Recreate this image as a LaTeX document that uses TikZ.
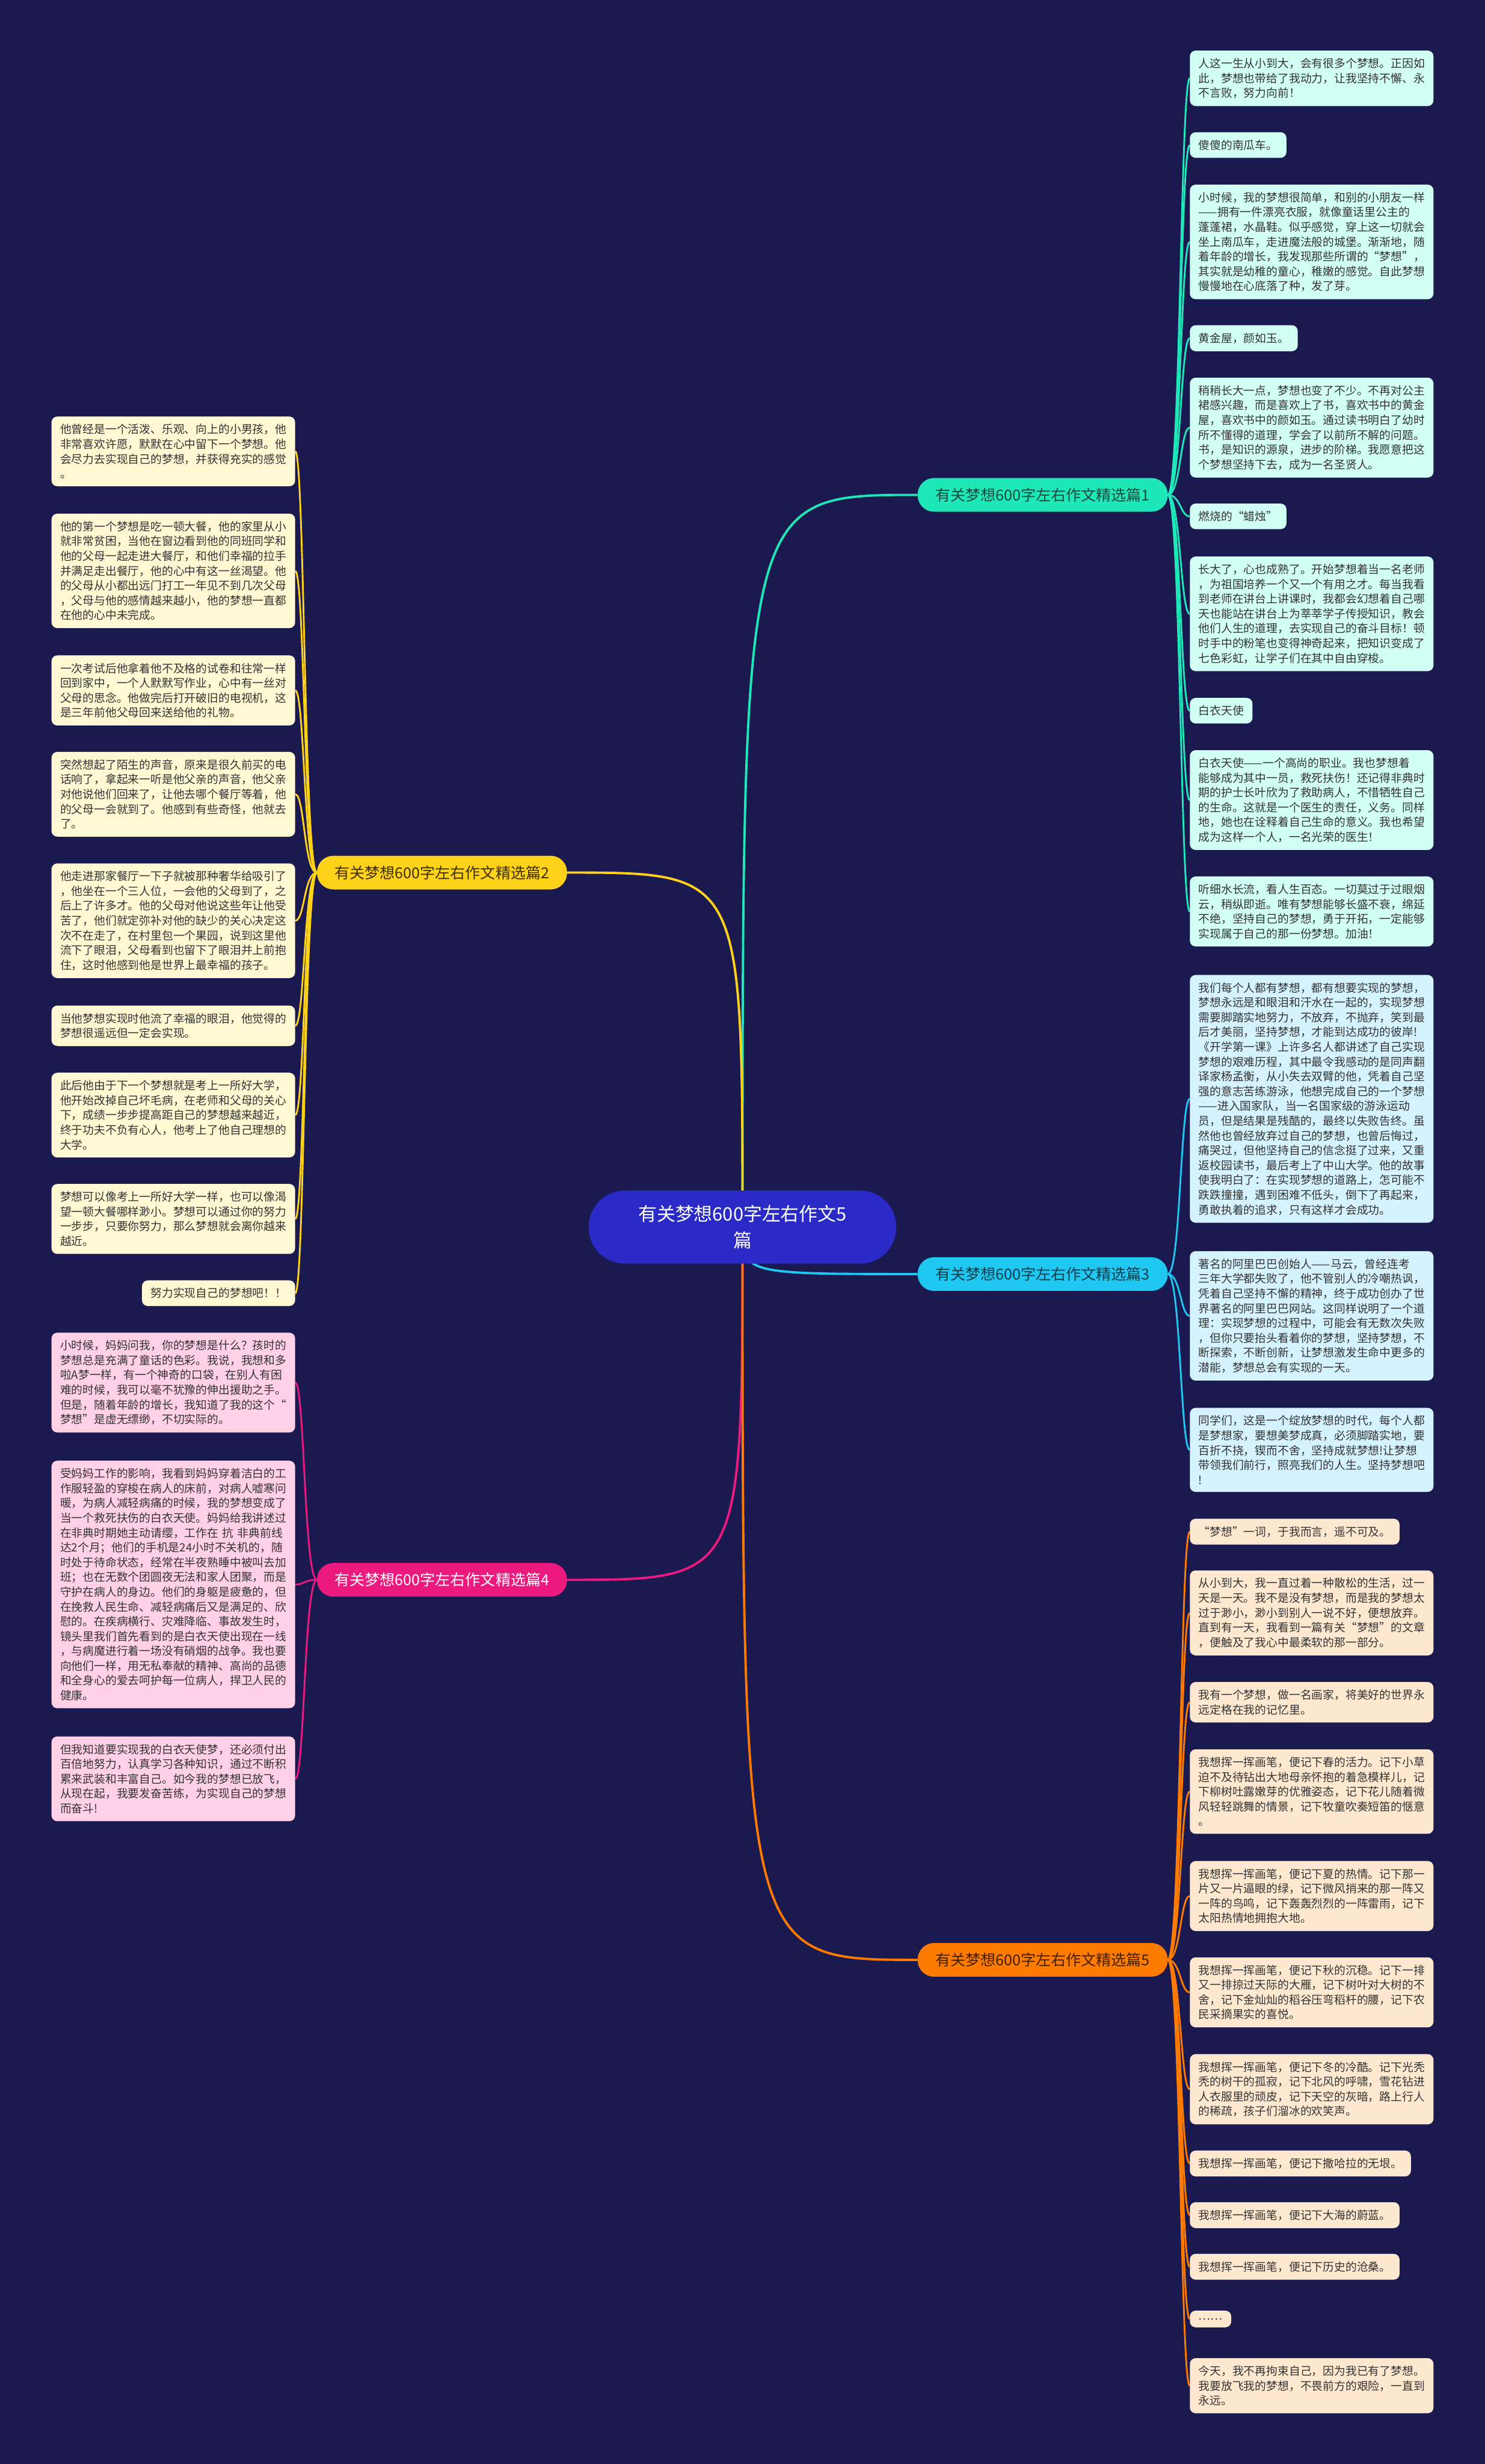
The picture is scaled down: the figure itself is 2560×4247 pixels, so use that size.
\documentclass[tikz,border=0pt]{standalone}
\usepackage{fontspec}
\newfontfamily\cjk{Noto Sans CJK SC}
\usetikzlibrary{backgrounds}
\definecolor{bg}{HTML}{1B1A50}
\definecolor{ctr}{HTML}{2A2AC6}
\definecolor{c1}{HTML}{1EE8B8}
\definecolor{f1}{HTML}{D2FFF3}
\definecolor{c2}{HTML}{FFD21A}
\definecolor{f2}{HTML}{FFF8D2}
\definecolor{c3}{HTML}{1EC8F0}
\definecolor{f3}{HTML}{D4F3FF}
\definecolor{c4}{HTML}{EC1A7E}
\definecolor{f4}{HTML}{FFD0E6}
\definecolor{c5}{HTML}{FF7B00}
\definecolor{f5}{HTML}{FFE8D0}
\definecolor{t1}{HTML}{1A4A3E}
\definecolor{t2}{HTML}{3D3000}
\definecolor{t3}{HTML}{0E3D4D}
\definecolor{t5}{HTML}{402000}
\definecolor{lt}{HTML}{333333}
\newcommand\lffont{\cjk\fontsize{19.5}{25.5}\selectfont}
\newcommand\brfont{\cjk\fontsize{26}{30}\selectfont}
\newcommand\ctfont{\cjk\fontsize{32}{45}\selectfont}
\begin{document}
\begin{tikzpicture}[x=1pt,y=-1pt,
  leaf/.style={rounded corners=10pt, inner xsep=15pt, inner ysep=13pt, align=left, font=\lffont, text=lt},
  full/.style={text width=390pt},
  g1/.style={leaf, fill=f1}, g2/.style={leaf, fill=f2}, g3/.style={leaf, fill=f3},
  g4/.style={leaf, fill=f4}, g5/.style={leaf, fill=f5},
  rl/.style={anchor=west}, ll/.style={anchor=east},
  branch/.style={rounded corners=28pt, minimum width=431pt, minimum height=58pt, inner sep=0pt, font=\brfont},
  center/.style={rounded corners=62pt, minimum width=530pt, minimum height=126pt, inner sep=0pt, align=center, font=\ctfont, fill=ctr, text=white},
  link/.style={line width=3pt},
  mainlink/.style={line width=4pt}]
\useasboundingbox (0,0) rectangle (2560,4247);

% center and branches
\node[center] (c) at (1280,2115) {有关梦想600字左右作文5\\篇};
\node[branch, fill=c1, text=t1] (b1) at (1797.5,853) {有关梦想600字左右作文精选篇1};
\node[branch, fill=c2, text=t2] (b2) at (762,1504) {有关梦想600字左右作文精选篇2};
\node[branch, fill=c3, text=t3] (b3) at (1797.5,2196) {有关梦想600字左右作文精选篇3};
\node[branch, fill=c4, text=white] (b4) at (762,2723) {有关梦想600字左右作文精选篇4};
\node[branch, fill=c5, text=t5] (b5) at (1797.5,3378) {有关梦想600字左右作文精选篇5};

% group 1
\node[g1,full,rl] (r1) at (2051,135) {人这一生从小到大，会有很多个梦想。正因如\\此，梦想也带给了我动力，让我坚持不懈、永\\不言败，努力向前！};
\node[g1,rl] (r2) at (2051,250) {傻傻的南瓜车。};
\node[g1,full,rl] (r3) at (2051,417) {小时候，我的梦想很简单，和别的小朋友一样\\——拥有一件漂亮衣服，就像童话里公主的\\蓬蓬裙，水晶鞋。似乎感觉，穿上这一切就会\\坐上南瓜车，走进魔法般的城堡。渐渐地，随\\着年龄的增长，我发现那些所谓的“梦想”，\\其实就是幼稚的童心，稚嫩的感觉。自此梦想\\慢慢地在心底落了种，发了芽。};
\node[g1,rl] (r4) at (2051,583) {黄金屋，颜如玉。};
\node[g1,full,rl] (r5) at (2051,737) {稍稍长大一点，梦想也变了不少。不再对公主\\裙感兴趣，而是喜欢上了书，喜欢书中的黄金\\屋，喜欢书中的颜如玉。通过读书明白了幼时\\所不懂得的道理，学会了以前所不解的问题。\\书，是知识的源泉，进步的阶梯。我愿意把这\\个梦想坚持下去，成为一名圣贤人。};
\node[g1,rl] (r6) at (2051,890) {燃烧的“蜡烛”};
\node[g1,full,rl] (r7) at (2051,1058) {长大了，心也成熟了。开始梦想着当一名老师\\，为祖国培养一个又一个有用之才。每当我看\\到老师在讲台上讲课时，我都会幻想着自己哪\\天也能站在讲台上为莘莘学子传授知识，教会\\他们人生的道理，去实现自己的奋斗目标！顿\\时手中的粉笔也变得神奇起来，把知识变成了\\七色彩虹，让学子们在其中自由穿梭。};
\node[g1,rl] (r8) at (2051,1225) {白衣天使};
\node[g1,full,rl] (r9) at (2051,1379) {白衣天使——一个高尚的职业。我也梦想着\\能够成为其中一员，救死扶伤！还记得非典时\\期的护士长叶欣为了救助病人，不惜牺牲自己\\的生命。这就是一个医生的责任，义务。同样\\地，她也在诠释着自己生命的意义。我也希望\\成为这样一个人，一名光荣的医生！};
\node[g1,full,rl] (r10) at (2051,1571) {听细水长流，看人生百态。一切莫过于过眼烟\\云，稍纵即逝。唯有梦想能够长盛不衰，绵延\\不绝，坚持自己的梦想，勇于开拓，一定能够\\实现属于自己的那一份梦想。加油！};

% group 3
\node[g3,full,rl] (s1) at (2051,1894) {我们每个人都有梦想，都有想要实现的梦想，\\梦想永远是和眼泪和汗水在一起的，实现梦想\\需要脚踏实地努力，不放弃，不抛弃，笑到最\\后才美丽，坚持梦想，才能到达成功的彼岸!\\《开学第一课》上许多名人都讲述了自己实现\\梦想的艰难历程，其中最令我感动的是同声翻\\译家杨孟衡，从小失去双臂的他，凭着自己坚\\强的意志苦练游泳，他想完成自己的一个梦想\\——进入国家队，当一名国家级的游泳运动\\员，但是结果是残酷的，最终以失败告终。虽\\然他也曾经放弃过自己的梦想，也曾后悔过，\\痛哭过，但他坚持自己的信念挺了过来，又重\\返校园读书，最后考上了中山大学。他的故事\\使我明白了：在实现梦想的道路上，怎可能不\\跌跌撞撞，遇到困难不低头，倒下了再起来，\\勇敢执着的追求，只有这样才会成功。};
\node[g3,full,rl] (s2) at (2051,2268) {著名的阿里巴巴创始人——马云，曾经连考\\三年大学都失败了，他不管别人的冷嘲热讽，\\凭着自己坚持不懈的精神，终于成功创办了世\\界著名的阿里巴巴网站。这同样说明了一个道\\理：实现梦想的过程中，可能会有无数次失败\\，但你只要抬头看着你的梦想，坚持梦想，不\\断探索，不断创新，让梦想激发生命中更多的\\潜能，梦想总会有实现的一天。};
\node[g3,full,rl] (s3) at (2051,2499) {同学们，这是一个绽放梦想的时代，每个人都\\是梦想家，要想美梦成真，必须脚踏实地，要\\百折不挠，锲而不舍，坚持成就梦想!让梦想\\带领我们前行，照亮我们的人生。坚持梦想吧\\!};

% group 5
\node[g5,rl] (o1) at (2051,2640) {“梦想”一词，于我而言，遥不可及。};
\node[g5,full,rl] (o2) at (2051,2780) {从小到大，我一直过着一种散松的生活，过一\\天是一天。我不是没有梦想，而是我的梦想太\\过于渺小，渺小到别人一说不好，便想放弃。\\直到有一天，我看到一篇有关“梦想”的文章\\，便触及了我心中最柔软的那一部分。};
\node[g5,full,rl] (o3) at (2051,2934) {我有一个梦想，做一名画家，将美好的世界永\\远定格在我的记忆里。};
\node[g5,full,rl] (o4) at (2051,3088) {我想挥一挥画笔，便记下春的活力。记下小草\\迫不及待钻出大地母亲怀抱的着急模样儿，记\\下柳树吐露嫩芽的优雅姿态，记下花儿随着微\\风轻轻跳舞的情景，记下牧童吹奏短笛的惬意\\。};
\node[g5,full,rl] (o5) at (2051,3268) {我想挥一挥画笔，便记下夏的热情。记下那一\\片又一片逼眼的绿，记下微风捎来的那一阵又\\一阵的鸟鸣，记下轰轰烈烈的一阵雷雨，记下\\太阳热情地拥抱大地。};
\node[g5,full,rl] (o6) at (2051,3434) {我想挥一挥画笔，便记下秋的沉稳。记下一排\\又一排掠过天际的大雁，记下树叶对大树的不\\舍，记下金灿灿的稻谷压弯稻杆的腰，记下农\\民采摘果实的喜悦。};
\node[g5,full,rl] (o7) at (2051,3601) {我想挥一挥画笔，便记下冬的冷酷。记下光秃\\秃的树干的孤寂，记下北风的呼啸，雪花钻进\\人衣服里的顽皮，记下天空的灰暗，路上行人\\的稀疏，孩子们溜冰的欢笑声。};
\node[g5,rl] (o8) at (2051,3729) {我想挥一挥画笔，便记下撒哈拉的无垠。};
\node[g5,rl] (o9) at (2051,3818) {我想挥一挥画笔，便记下大海的蔚蓝。};
\node[g5,rl] (o10) at (2051,3907) {我想挥一挥画笔，便记下历史的沧桑。};
\node[g5,rl] (o11) at (2051,3997) {……};
\node[g5,full,rl] (o12) at (2051,4112) {今天，我不再拘束自己，因为我已有了梦想。\\我要放飞我的梦想，不畏前方的艰险，一直到\\永远。};

% group 2
\node[g2,full,ll] (y1) at (509,778) {他曾经是一个活泼、乐观、向上的小男孩，他\\非常喜欢许愿，默默在心中留下一个梦想。他\\会尽力去实现自己的梦想，并获得充实的感觉\\。};
\node[g2,full,ll] (y2) at (509,984) {他的第一个梦想是吃一顿大餐，他的家里从小\\就非常贫困，当他在窗边看到他的同班同学和\\他的父母一起走进大餐厅，和他们幸福的拉手\\并满足走出餐厅，他的心中有这一丝渴望。他\\的父母从小都出远门打工一年见不到几次父母\\，父母与他的感情越来越小，他的梦想一直都\\在他的心中未完成。};
\node[g2,full,ll] (y3) at (509,1190) {一次考试后他拿着他不及格的试卷和往常一样\\回到家中，一个人默默写作业，心中有一丝对\\父母的思念。他做完后打开破旧的电视机，这\\是三年前他父母回来送给他的礼物。};
\node[g2,full,ll] (y4) at (509,1369) {突然想起了陌生的声音，原来是很久前买的电\\话响了，拿起来一听是他父亲的声音，他父亲\\对他说他们回来了，让他去哪个餐厅等着，他\\的父母一会就到了。他感到有些奇怪，他就去\\了。};
\node[g2,full,ll] (y5) at (509,1587) {他走进那家餐厅一下子就被那种奢华给吸引了\\，他坐在一个三人位，一会他的父母到了，之\\后上了许多才。他的父母对他说这些年让他受\\苦了，他们就定弥补对他的缺少的关心决定这\\次不在走了，在村里包一个果园，说到这里他\\流下了眼泪，父母看到也留下了眼泪并上前抱\\住，这时他感到他是世界上最幸福的孩子。};
\node[g2,full,ll] (y6) at (509,1768) {当他梦想实现时他流了幸福的眼泪，他觉得的\\梦想很遥远但一定会实现。};
\node[g2,full,ll] (y7) at (509,1922) {此后他由于下一个梦想就是考上一所好大学，\\他开始改掉自己坏毛病，在老师和父母的关心\\下，成绩一步步提高距自己的梦想越来越近，\\终于功夫不负有心人，他考上了他自己理想的\\大学。};
\node[g2,full,ll] (y8) at (509,2101) {梦想可以像考上一所好大学一样，也可以像渴\\望一顿大餐哪样渺小。梦想可以通过你的努力\\一步步，只要你努力，那么梦想就会离你越来\\越近。};
\node[g2,ll] (y9) at (509,2229) {努力实现自己的梦想吧！！};

% group 4
\node[g4,full,ll] (m1) at (509,2383) {小时候，妈妈问我，你的梦想是什么？孩时的\\梦想总是充满了童话的色彩。我说，我想和多\\啦A梦一样，有一个神奇的口袋，在别人有困\\难的时候，我可以毫不犹豫的伸出援助之手。\\但是，随着年龄的增长，我知道了我的这个“\\梦想”是虚无缥缈，不切实际的。};
\node[g4,full,ll] (m2) at (509,2731) {受妈妈工作的影响，我看到妈妈穿着洁白的工\\作服轻盈的穿梭在病人的床前，对病人嘘寒问\\暖，为病人减轻病痛的时候，我的梦想变成了\\当一个救死扶伤的白衣天使。妈妈给我讲述过\\在非典时期她主动请缨，工作在 抗 非典前线\\达2个月；他们的手机是24小时不关机的，随\\时处于待命状态，经常在半夜熟睡中被叫去加\\班；也在无数个团圆夜无法和家人团聚，而是\\守护在病人的身边。他们的身躯是疲惫的，但\\在挽救人民生命、减轻病痛后又是满足的、欣\\慰的。在疾病横行、灾难降临、事故发生时，\\镜头里我们首先看到的是白衣天使出现在一线\\，与病魔进行着一场没有硝烟的战争。我也要\\向他们一样，用无私奉献的精神、高尚的品德\\和全身心的爱去呵护每一位病人，捍卫人民的\\健康。};
\node[g4,full,ll] (m3) at (509,3066) {但我知道要实现我的白衣天使梦，还必须付出\\百倍地努力，认真学习各种知识，通过不断积\\累来武装和丰富自己。如今我的梦想已放飞，\\从现在起，我要发奋苦练，为实现自己的梦想\\而奋斗!};

\begin{pgfonlayer}{background}
\fill[bg] (0,0) rectangle (2560,4247);
% main connectors
\draw[mainlink,c1] (c.center) .. controls (c.center |- b1.west) and (c.center |- b1.west) .. (b1.west);
\draw[mainlink,c2] (c.center) .. controls (c.center |- b2.east) and (c.center |- b2.east) .. (b2.east);
\draw[mainlink,c3] (c.center) .. controls (c.center |- b3.west) .. (b3.west);
\draw[mainlink,c4] (c.center) .. controls (c.center |- b4.east) and (c.center |- b4.east) .. (b4.east);
\draw[mainlink,c5] (c.center) .. controls (c.center |- b5.west) and (c.center |- b5.west) .. (b5.west);
% leaf connectors
\foreach \n in {r1,r2,r3,r4,r5,r6,r7,r8,r9,r10}
  \draw[link,c1] (b1.east) .. controls +(22,0) and +(-16,0) .. (\n.west);
\foreach \n in {s1,s2,s3}
  \draw[link,c3] (b3.east) .. controls +(22,0) and +(-16,0) .. (\n.west);
\foreach \n in {o1,o2,o3,o4,o5,o6,o7,o8,o9,o10,o11,o12}
  \draw[link,c5] (b5.east) .. controls +(22,0) and +(-16,0) .. (\n.west);
\foreach \n in {y1,y2,y3,y4,y5,y6,y7,y8,y9}
  \draw[link,c2] (b2.west) .. controls +(-22,0) and +(16,0) .. (\n.east);
\foreach \n in {m1,m2,m3}
  \draw[link,c4] (b4.west) .. controls +(-22,0) and +(16,0) .. (\n.east);
\end{pgfonlayer}
\end{tikzpicture}
\end{document}
